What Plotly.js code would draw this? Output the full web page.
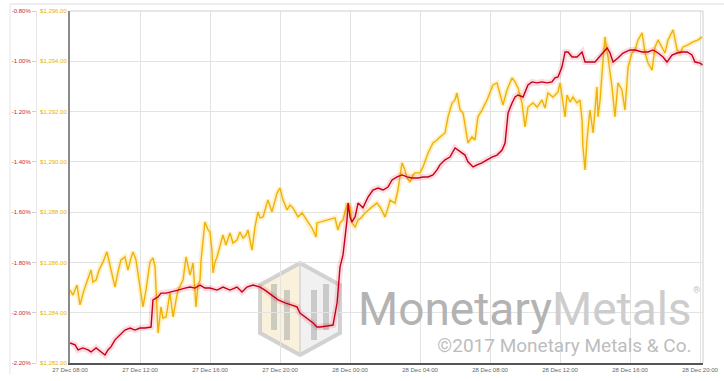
<!DOCTYPE html>
<html>
<head>
<meta charset="utf-8">
<script src="https://cdn.plot.ly/plotly-3.0.1.min.js"></script>
<style>html,body{margin:0;padding:0;background:#fff;}#chart{width:724px;height:381px;}</style>
</head>
<body>
<div id="chart"></div>
<script>
// hours since 27 Dec 08:00
const goldHours = [0,0.17,0.4,0.57,0.8,1.03,1.2,1.31,1.49,1.66,1.89,2.11,2.29,2.46,2.57,2.74,2.91,3.14,3.31,3.49,3.6,3.77,4.0,4.17,4.34,4.57,4.74,4.86,5.03,5.2,5.31,5.49,5.71,5.89,6.06,6.17,6.46,6.63,6.86,7.03,7.2,7.31,7.43,7.49,7.71,7.89,8.0,8.11,8.17,8.29,8.4,8.57,8.74,8.91,9.14,9.31,9.54,9.71,9.89,10.06,10.17,10.4,10.57,10.74,10.86,11.03,11.2,11.31,11.54,11.71,11.83,12.0,12.17,12.4,12.57,12.74,12.91,13.03,13.26,13.43,13.54,13.71,13.83,14.06,14.11,15.14,15.31,15.43,15.6,15.71,15.89,16.0,16.11,16.29,16.46,16.63,16.86,17.03,17.26,17.54,17.71,17.89,18.0,18.17,18.29,18.57,18.74,18.97,19.14,19.26,19.43,19.6,19.71,20.0,20.17,20.46,20.74,20.97,21.14,21.43,21.6,21.83,22.0,22.11,22.29,22.46,22.57,22.69,22.74,22.97,23.14,23.31,23.54,23.83,24.0,24.17,24.4,24.57,24.74,24.97,25.26,25.43,25.6,25.83,26.0,26.17,26.46,26.69,26.97,27.14,27.31,27.6,27.89,28.0,28.17,28.29,28.4,28.57,28.74,28.97,29.14,29.26,29.31,29.43,29.54,29.71,29.89,30.11,30.17,30.29,30.4,30.57,30.69,30.74,30.97,31.14,31.31,31.54,31.71,31.89,32.11,32.29,32.46,32.69,32.86,33.03,33.26,33.43,33.6,33.83,34.0,34.17,34.4,34.46,34.69,34.86,35.03,35.31,35.6,35.89,36.11];
const goldPrice = [1284.90,1284.70,1285.10,1284.31,1284.90,1285.38,1285.70,1285.22,1285.30,1285.70,1286.02,1286.42,1285.90,1285.30,1285.02,1285.62,1286.10,1286.22,1285.70,1286.18,1286.42,1286.10,1285.02,1284.23,1284.90,1286.02,1286.18,1285.82,1283.19,1284.23,1283.79,1283.83,1284.78,1283.83,1284.51,1284.90,1285.30,1286.22,1285.50,1285.98,1284.23,1285.10,1285.30,1286.10,1287.61,1287.29,1287.21,1286.49,1285.58,1286.02,1286.22,1286.69,1287.09,1286.69,1287.17,1286.77,1286.89,1287.21,1286.97,1287.09,1287.29,1286.49,1287.41,1288.01,1287.77,1287.81,1288.28,1288.48,1288.01,1288.48,1288.76,1288.96,1288.48,1288.09,1288.28,1288.17,1287.93,1287.81,1287.97,1287.77,1287.69,1287.49,1287.37,1287.01,1287.57,1287.77,1287.29,1287.57,1287.69,1288.01,1288.36,1288.21,1287.57,1287.41,1287.69,1287.77,1287.97,1288.09,1288.21,1288.36,1288.21,1287.97,1287.81,1288.17,1288.48,1288.36,1288.88,1289.96,1289.68,1289.36,1289.20,1289.48,1289.56,1289.56,1289.80,1290.35,1290.75,1290.87,1290.99,1291.15,1291.79,1292.34,1292.46,1292.74,1292.06,1291.94,1291.47,1290.87,1290.75,1290.99,1290.87,1291.79,1292.06,1292.46,1292.78,1293.06,1293.14,1292.66,1292.26,1292.86,1293.34,1293.18,1292.94,1292.34,1291.39,1292.18,1292.34,1292.18,1292.46,1292.14,1292.74,1292.58,1292.78,1293.14,1292.34,1291.79,1292.66,1292.38,1292.58,1292.34,1292.46,1291.67,1290.59,1289.68,1290.87,1292.06,1291.15,1292.98,1291.79,1292.46,1293.54,1294.97,1294.33,1294.17,1292.98,1291.79,1293.14,1292.86,1292.06,1293.77,1294.33,1294.45,1294.85,1295.13,1294.33,1293.93,1293.65,1294.57,1294.85,1294.57,1294.33,1294.85,1295.13,1295.25,1294.45,1294.33,1294.57,1294.65,1294.77,1294.85,1294.97];

const spreadHours = [0,0.29,0.46,0.74,1.03,1.2,1.49,1.77,2.0,2.17,2.34,2.57,2.86,3.14,3.43,3.71,4.0,4.29,4.63,4.74,5.03,5.2,5.49,5.77,6.17,6.57,6.86,7.14,7.43,7.71,8.0,8.4,8.74,9.14,9.54,9.83,10.11,10.46,10.86,11.14,11.54,11.89,12.29,12.69,12.97,13.14,13.43,13.71,13.89,14.11,14.29,14.69,15.03,15.26,15.43,15.6,15.71,15.83,15.89,16.0,16.11,16.29,16.46,16.74,17.03,17.31,17.6,17.89,18.17,18.4,18.69,18.97,19.26,19.54,19.89,20.17,20.46,20.74,20.97,21.14,21.43,21.71,22.0,22.29,22.57,22.74,23.03,23.26,23.54,23.83,24.11,24.4,24.69,24.86,25.03,25.26,25.43,25.6,25.89,26.17,26.4,26.69,26.97,27.26,27.54,27.71,27.89,28.11,28.29,28.46,28.69,28.97,29.26,29.43,29.71,30.0,30.29,30.46,30.69,30.86,31.03,31.31,31.6,32.0,32.29,32.69,33.03,33.31,33.6,33.89,34.11,34.4,34.69,34.97,35.26,35.54,35.71,36.0,36.17];
const spreadPct = [-2.120,-2.128,-2.148,-2.140,-2.148,-2.156,-2.140,-2.156,-2.168,-2.148,-2.136,-2.108,-2.089,-2.069,-2.061,-2.069,-2.061,-2.061,-2.057,-1.949,-1.937,-1.922,-1.922,-1.918,-1.910,-1.902,-1.898,-1.902,-1.890,-1.902,-1.902,-1.910,-1.898,-1.910,-1.898,-1.918,-1.898,-1.890,-1.898,-1.910,-1.930,-1.949,-1.961,-1.969,-1.977,-2.001,-2.017,-2.029,-2.041,-2.057,-2.057,-2.053,-2.049,-1.961,-1.818,-1.770,-1.711,-1.631,-1.564,-1.619,-1.639,-1.619,-1.564,-1.583,-1.540,-1.512,-1.504,-1.512,-1.500,-1.472,-1.460,-1.452,-1.460,-1.464,-1.464,-1.460,-1.460,-1.452,-1.432,-1.412,-1.392,-1.381,-1.345,-1.361,-1.373,-1.400,-1.420,-1.412,-1.404,-1.392,-1.381,-1.373,-1.353,-1.325,-1.206,-1.166,-1.142,-1.134,-1.142,-1.094,-1.082,-1.086,-1.082,-1.086,-1.082,-1.066,-1.062,-1.023,-0.963,-0.963,-0.983,-0.983,-0.963,-1.003,-1.003,-1.003,-0.979,-0.967,-0.947,-0.967,-1.003,-0.987,-0.967,-0.955,-0.955,-0.963,-0.963,-0.955,-0.967,-0.983,-1.003,-0.975,-0.967,-0.963,-0.963,-0.975,-1.003,-1.007,-1.015];

const xTickHours = [0,4,8,12,16,20,24,28,32,36];
const xTickLabels = ['27 Dec 08:00','27 Dec 12:00','27 Dec 16:00','27 Dec 20:00','28 Dec 00:00','28 Dec 04:00','28 Dec 08:00','28 Dec 12:00','28 Dec 16:00','28 Dec 20:00'];
const goldTicks = [1282,1284,1286,1288,1290,1292,1294,1296];
const goldTickLabels = ['$1,282.00','$1,284.00','$1,286.00','$1,288.00','$1,290.00','$1,292.00','$1,294.00','$1,296.00'];
const pctTicks = [-2.2,-2.0,-1.8,-1.6,-1.4,-1.2,-1.0,-0.8];
const pctTickLabels = ['-2.20%','-2.00%','-1.80%','-1.60%','-1.40%','-1.20%','-1.00%','-0.80%'];

const GOLD = '#eeb20c';
const RED = '#c4001a';
const tickFont = {family:'Liberation Sans, Arial, sans-serif', size:6};

// pixel helpers for decorative layout (paper coords)
const L = 5, R = 21, T = 11, B = 18, W = 724, H = 381;
const pw = W - L - R, ph = H - T - B;
const px = v => (v - L) / pw;
const py = v => (H - B - v) / ph;

const traces = [
  {x: goldHours, y: goldPrice, type:'scatter', mode:'lines', line:{color:'rgba(255,205,40,0.28)', width:5}, hoverinfo:'skip', yaxis:'y'},
  {x: spreadHours, y: spreadPct, type:'scatter', mode:'lines', line:{color:'rgba(235,40,60,0.16)', width:6}, hoverinfo:'skip', yaxis:'y2'},
  {x: goldHours, y: goldPrice, type:'scatter', mode:'lines', line:{color:GOLD, width:1.4}, name:'Gold', yaxis:'y'},
  {x: spreadHours, y: spreadPct, type:'scatter', mode:'lines', line:{color:RED, width:1.4}, name:'Spread', yaxis:'y2'}
];

const hex = `M ${px(300)} ${py(263)} L ${px(340)} ${py(285)} L ${px(340)} ${py(333)} L ${px(300)} ${py(355)} L ${px(260)} ${py(333)} L ${px(260)} ${py(285)} Z`;
const leftFace = `M ${px(300)} ${py(263)} L ${px(300)} ${py(355)} L ${px(260)} ${py(333)} L ${px(260)} ${py(285)} Z`;
const rightFace = `M ${px(300)} ${py(263)} L ${px(340)} ${py(285)} L ${px(340)} ${py(333)} L ${px(300)} ${py(355)} Z`;
function bar(x0, x1, y0, y1){
  return {type:'rect', xref:'paper', yref:'paper', x0:px(x0), x1:px(x1), y0:py(y1), y1:py(y0), fillcolor:'rgba(170,170,170,0.55)', line:{width:0}, layer:'below'};
}

const shapes = [
  {type:'path', xref:'paper', yref:'paper', path:leftFace, fillcolor:'rgba(245,232,195,0.6)', line:{width:0}, layer:'below'},
  {type:'path', xref:'paper', yref:'paper', path:rightFace, fillcolor:'rgba(232,232,232,0.6)', line:{width:0}, layer:'below'},
  {type:'path', xref:'paper', yref:'paper', path:hex, fillcolor:'rgba(0,0,0,0)', line:{color:'rgba(200,200,200,0.8)', width:4}, layer:'below'},
  {type:'line', xref:'paper', yref:'paper', x0:px(300), x1:px(300), y0:py(263), y1:py(355), line:{color:'rgba(215,215,215,0.8)', width:2}, layer:'below'},
  bar(271,277,284,330), bar(284,290,290,340), bar(311,317,290,340), bar(323,329,284,330),
  // frame lines
  {type:'line', xref:'paper', yref:'paper', x0:px(10), x1:px(724), y0:py(4), y1:py(4), line:{color:'#dcdcdc', width:1}},
  {type:'line', xref:'paper', yref:'paper', x0:px(10), x1:px(10), y0:py(4), y1:py(374), line:{color:'#e4e4e4', width:1}},
  {type:'line', xref:'paper', yref:'paper', x0:1, x1:1, y0:0, y1:1, line:{color:'#cfcfcf', width:1}},
  {type:'line', xref:'paper', yref:'paper', x0:px(70), x1:1, y0:1, y1:1, line:{color:'#cfcfcf', width:1}}
];

const watermark = '<span style="font-size:46px"><span style="color:#b3b3b3">Monetary</span><span style="color:#cdcdcd">Metals</span></span>' +
  '<br><span style="font-size:19px;color:#bdbdbd">©2017 Monetary Metals &amp; Co.</span>';

const annotations = [
  {xref:'paper', yref:'paper', x:px(693), y:py(358), xanchor:'right', yanchor:'bottom', showarrow:false, borderpad:0,
   align:'right', text:watermark,
   font:{family:'Roboto, Liberation Sans, sans-serif', size:20.5, color:'#bdbdbd'}},
  {xref:'paper', yref:'paper', x:px(692), y:py(290), xanchor:'left', yanchor:'middle', showarrow:false, borderpad:0,
   text:'®', font:{family:'Roboto, sans-serif', size:9, color:'#c4c4c4'}}
];

const layout = {
  width: W, height: H,
  margin: {l:L, r:R, t:T, b:B, pad:0},
  paper_bgcolor:'#fff', plot_bgcolor:'#fff',
  showlegend:false,
  xaxis: {
    domain:[px(70), 1], range:[0, 36.17], tickvals:xTickHours, ticktext:xTickLabels,
    showgrid:true, gridcolor:'#e3e3e3', gridwidth:1, zeroline:false,
    showline:true, linecolor:'#555', linewidth:2, ticks:'', tickfont:{...tickFont, color:'#666'}
  },
  yaxis: {
    range:[1282, 1296], tickvals:goldTicks, ticktext:goldTickLabels,
    showgrid:true, gridcolor:'#e3e3e3', gridwidth:1, zeroline:false,
    showline:true, linecolor:'#8a8a8a', linewidth:2, ticks:'', tickfont:{...tickFont, color:'#e8b400'}
  },
  yaxis2: {
    overlaying:'y', side:'left', anchor:'free', position:px(36),
    range:[-2.2, -0.8], tickvals:pctTicks, ticktext:pctTickLabels,
    showgrid:false, zeroline:false, showline:true, linecolor:'#e6e6e6', linewidth:1,
    ticks:'outside', ticklen:4, tickcolor:'#cfcfcf', tickfont:{...tickFont, color:'#cc1f2f'}
  },
  shapes: shapes,
  annotations: annotations
};

Plotly.newPlot('chart', traces, layout, {displayModeBar:false, staticPlot:true});
</script>
</body>
</html>
